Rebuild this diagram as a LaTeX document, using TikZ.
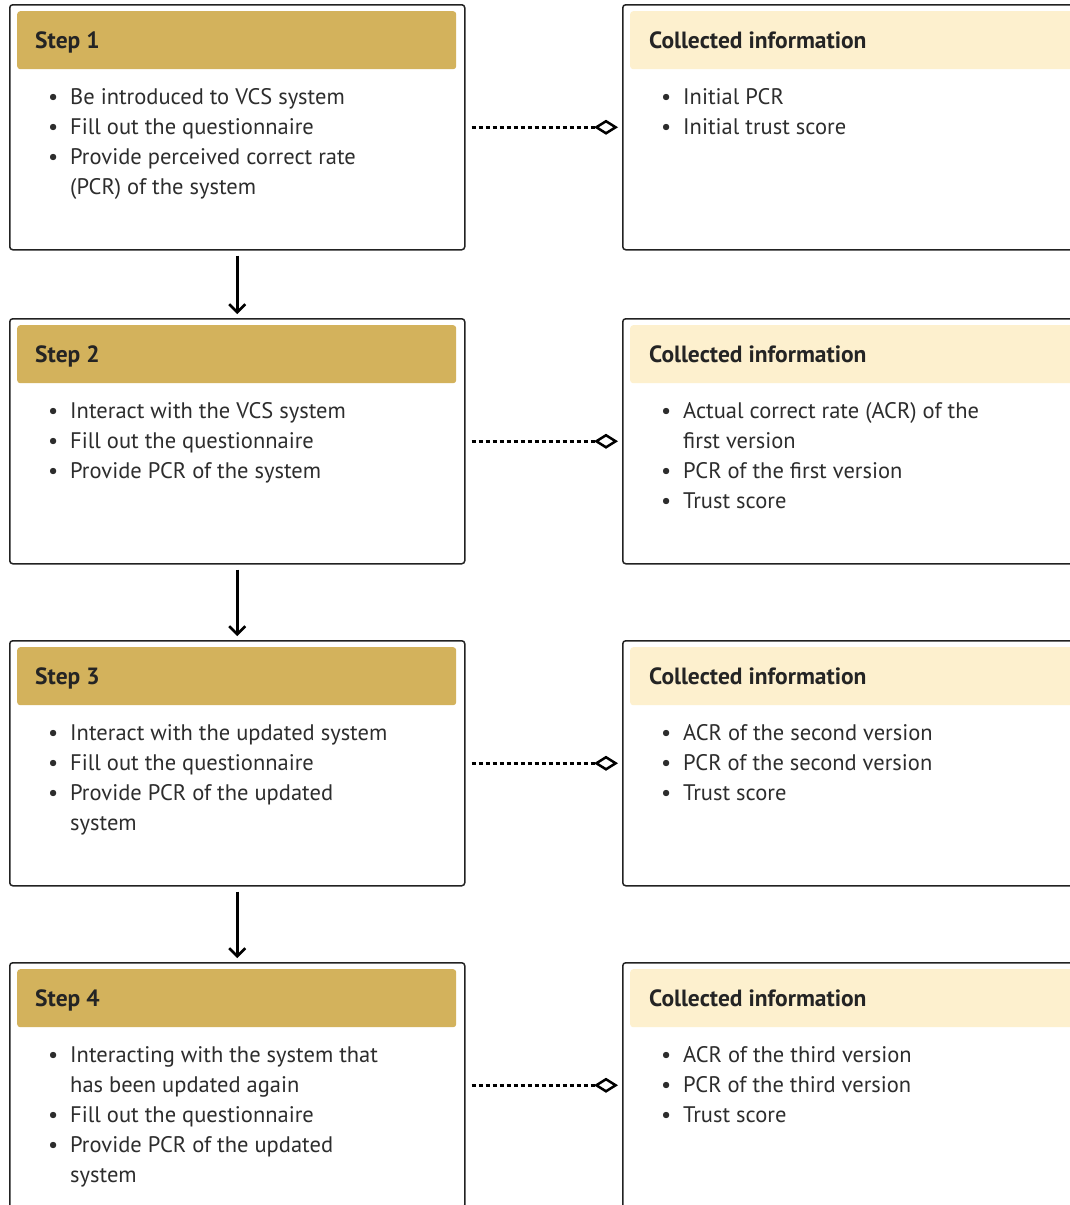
\documentclass[tikz,border=0pt]{standalone}
\usepackage{fontspec}
\setmainfont{PT Sans}
\usetikzlibrary{arrows.meta}
\definecolor{gold}{RGB}{211,178,92}
\definecolor{cream}{RGB}{253,240,206}
\definecolor{ink}{RGB}{45,45,45}
\definecolor{edge}{RGB}{34,34,34}
\tikzset{
  frame/.style={draw=edge, line width=1.5pt, rounded corners=3pt, fill=white, anchor=north west, inner sep=0pt},
  stepbox/.style={frame, minimum width=455pt, minimum height=245pt},
  infobox/.style={frame, minimum width=520pt, minimum height=245pt},
  hdr/.style={fill=gold, rounded corners=3pt, anchor=north west, inner sep=0pt, minimum width=439pt, minimum height=58pt},
  ihdr/.style={hdr, fill=cream, minimum width=500pt},
  htxt/.style={anchor=base west, inner sep=0pt, font=\fontsize{23.5}{28}\selectfont\bfseries, text=ink!80!black},
  txt/.style={anchor=base west, inner sep=0pt, font=\fontsize{22.5}{27}\selectfont, text=ink},
  flow/.style={draw=black, line width=2.5pt, -{Straight Barb[length=8pt,width=16pt,line width=2.5pt]}, shorten <=5pt, shorten >=4pt},
  link/.style={draw=black, line width=2.5pt, dash pattern=on 4pt off 3pt, -{Diamond[open,length=24pt,width=15pt,line width=2.5pt]}, shorten <=6pt, shorten >=4pt}
}
\newcommand\bul[4]{\node[txt] (#1) at (#2,#3) {\makebox[22pt][l]{\textbullet}#4};}
\newcommand\cont[4]{\node[txt] (#1) at (#2+22,#3) {#4};}
\begin{document}
\begin{tikzpicture}[x=1pt,y=-1pt]
\clip (0,0) rectangle (1070,1205);
\fill[white] (0,0) rectangle (1070,1205);
% ---- boxes
\foreach \i/\y in {1/4,2/318,3/640,4/962}{
  \node[stepbox] (s\i) at (9,\y) {};
  \node[hdr] (h\i) at (17,\y+7) {};
  \node[htxt] (ht\i) at (35,\y+44) {Step \i};
  \node[infobox] (c\i) at (622,\y) {};
  \node[ihdr] (ch\i) at (630,\y+7) {};
  \node[htxt] (cht\i) at (649,\y+44) {Collected information};
}
% ---- step 1
\bul{a1}{48}{104}{Be introduced to VCS system}
\bul{a2}{48}{134}{Fill out the questionnaire}
\bul{a3}{48}{164}{Provide perceived correct rate}
\cont{a4}{48}{194}{(PCR) of the system}
\bul{b1}{661}{104}{Initial PCR}
\bul{b2}{661}{134}{Initial trust score}
% ---- step 2
\bul{d1}{48}{418}{Interact with the VCS system}
\bul{d2}{48}{448}{Fill out the questionnaire}
\bul{d3}{48}{478}{Provide PCR of the system}
\bul{e1}{661}{418}{Actual correct rate (ACR) of the}
\cont{e2}{661}{448}{first version}
\bul{e3}{661}{478}{PCR of the first version}
\bul{e4}{661}{508}{Trust score}
% ---- step 3
\bul{f1}{48}{740}{Interact with the updated system}
\bul{f2}{48}{770}{Fill out the questionnaire}
\bul{f3}{48}{800}{Provide PCR of the updated}
\cont{f4}{48}{830}{system}
\bul{g1}{661}{740}{ACR of the second version}
\bul{g2}{661}{770}{PCR of the second version}
\bul{g3}{661}{800}{Trust score}
% ---- step 4
\bul{k1}{48}{1062}{Interacting with the system that}
\cont{k2}{48}{1092}{has been updated again}
\bul{k3}{48}{1122}{Fill out the questionnaire}
\bul{k4}{48}{1152}{Provide PCR of the updated}
\cont{k5}{48}{1182}{system}
\bul{m1}{661}{1062}{ACR of the third version}
\bul{m2}{661}{1092}{PCR of the third version}
\bul{m3}{661}{1122}{Trust score}
% ---- connectors
\draw[flow] (s1.south) -- (s2.north);
\draw[flow] (s2.south) -- (s3.north);
\draw[flow] (s3.south) -- (s4.north);
\foreach \i in {1,2,3,4}{
  \draw[link] (s\i.east) -- (s\i.east -| c\i.west);
}
\end{tikzpicture}
\end{document}
